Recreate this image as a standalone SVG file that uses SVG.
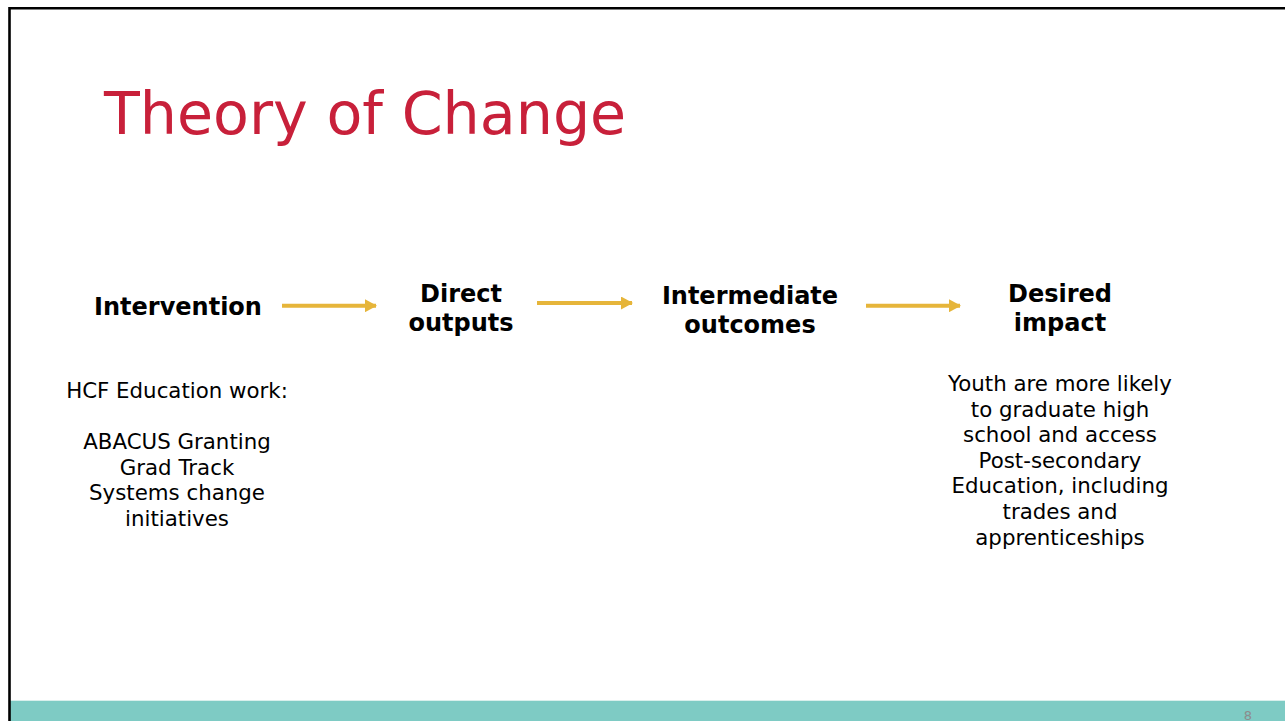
<svg xmlns="http://www.w3.org/2000/svg" width="1285" height="721" viewBox="0 0 1285 721">
<style>
.title{font-family:"DejaVu Sans",Verdana,sans-serif;font-size:58.67px;fill:#C8203A}
.hd{font-family:"DejaVu Sans",Verdana,sans-serif;font-size:24px;font-weight:bold;fill:#000;text-anchor:middle}
.bd{font-family:"DejaVu Sans",Verdana,sans-serif;font-size:21.33px;fill:#000;text-anchor:middle}
.arr{stroke:#E6B53A;stroke-width:4;fill:none}
.pg{font-family:"DejaVu Sans",Verdana,sans-serif;font-size:13px;fill:#8C8C8C;text-anchor:middle}
</style>
<defs>
<marker id="ah" markerWidth="12" markerHeight="13" refX="11" refY="6.5" orient="auto" markerUnits="userSpaceOnUse">
<path d="M0,0 L12,6.5 L0,13 Z" fill="#E6B53A"/>
</marker>
</defs>
<rect x="0" y="0" width="1285" height="721" fill="#FFFFFF"/>
<rect x="10" y="700" width="1275" height="21" fill="#7ECBC4"/>
<line x1="10" y1="700.5" x2="1285" y2="700.5" stroke="#D8EFEC" stroke-width="1"/>
<path d="M9.5,721 V8.2 H1285" fill="none" stroke="#000" stroke-width="2.6"/>
<text class="title" x="104" y="134">Theory of Change</text>
<text class="pg" x="1248" y="719.5">8</text>
<g id="intervention">
<text class="hd" x="178" y="315">Intervention</text>
<text class="bd" x="177" y="398">HCF Education work:</text>
<text class="bd" x="177" y="449.2">ABACUS Granting</text>
<text class="bd" x="177" y="474.8">Grad Track</text>
<text class="bd" x="177" y="500.4">Systems change</text>
<text class="bd" x="177" y="526">initiatives</text>
</g>
<g id="direct-outputs">
<text class="hd" x="461" y="302">Direct</text>
<text class="hd" x="461" y="331">outputs</text>
</g>
<g id="intermediate-outcomes">
<text class="hd" x="750" y="304">Intermediate</text>
<text class="hd" x="750" y="333">outcomes</text>
</g>
<g id="desired-impact">
<text class="hd" x="1060" y="302">Desired</text>
<text class="hd" x="1060" y="331">impact</text>
<text class="bd" x="1060" y="391">Youth are more likely</text>
<text class="bd" x="1060" y="416.6">to graduate high</text>
<text class="bd" x="1060" y="442.2">school and access</text>
<text class="bd" x="1060" y="467.8">Post-secondary</text>
<text class="bd" x="1060" y="493.4">Education, including</text>
<text class="bd" x="1060" y="519">trades and</text>
<text class="bd" x="1060" y="544.6">apprenticeships</text>
</g>
<g id="connectors">
<line class="arr" x1="282" y1="305.7" x2="376" y2="305.7" marker-end="url(#ah)"/>
<line class="arr" x1="537" y1="303" x2="632" y2="303" marker-end="url(#ah)"/>
<line class="arr" x1="866" y1="305.7" x2="960" y2="305.7" marker-end="url(#ah)"/>
</g>
</svg>
